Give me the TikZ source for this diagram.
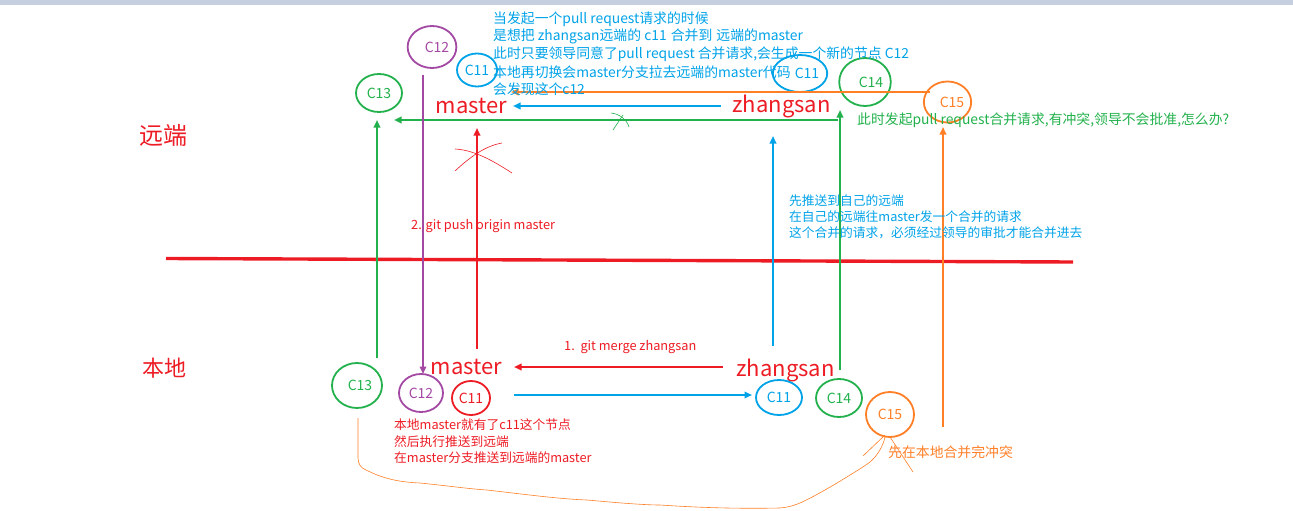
\documentclass[tikz,border=0pt]{standalone}
\usepackage{fontspec}
\setmainfont{Noto Sans CJK SC}
\usetikzlibrary{arrows.meta,shapes.geometric}
\definecolor{cblue}{HTML}{00A2E8}
\definecolor{cgreen}{HTML}{22B14C}
\definecolor{cred}{HTML}{ED1C24}
\definecolor{corange}{HTML}{FF7F27}
\definecolor{cpurple}{HTML}{A349A4}
\definecolor{cbar}{HTML}{C5CFE0}
\tikzset{
  x=1pt,y=-1pt,
  commit/.style={ellipse,draw=#1,text=#1,line width=1.8pt,inner sep=0pt,font=\fontsize{14}{14}\selectfont},
  conn/.style={draw=#1,line width=2pt,-{Triangle[length=7.5pt,width=6.5pt]}},
  scrib/.style={draw=#1,line width=0.6pt},
  note/.style={anchor=west,inner sep=0pt,text=#1,font=\fontsize{13.85}{14}\selectfont},
  smallnote/.style={anchor=west,inner sep=0pt,text=#1,font=\fontsize{12.75}{13}\selectfont},
  branch/.style={inner sep=0pt,text=cred,font=\fontsize{22}{22}\selectfont},
}
\begin{document}
\begin{tikzpicture}
\useasboundingbox (0,0) rectangle (1293,511);
\fill[cbar] (0,0) rectangle (1293,5);

% side labels and branches
\node[inner sep=0pt,text=cred,font=\fontsize{24}{24}\selectfont] (remote) at (163.5,135.5) {远端};
\node[inner sep=0pt,text=cred,font=\fontsize{22}{22}\selectfont] (local) at (164,368) {本地};
\node[branch] (mt) at (471.5,106) {master};
\node[branch] (zt) at (781.5,106) {zhangsan};
\node[branch] (mb) at (466.5,367) {master};
\node[branch] (zb) at (785.5,370) {zhangsan};

% free ends
\coordinate (dTop) at (166,258.5); \coordinate (dEnd) at (1073,262);
\coordinate (oA) at (930,92);  \coordinate (oB) at (511,92);
\coordinate (bA) at (721,106); \coordinate (bB) at (513,106);
\coordinate (gA) at (838,120); \coordinate (gB) at (394,120);
\coordinate (bU1) at (773,346); \coordinate (bU2) at (773,136);
\coordinate (gU1) at (840,370); \coordinate (gU2) at (840,110);
\coordinate (oU1) at (943,427); \coordinate (oU2) at (943,127);
\coordinate (rU1) at (477,349); \coordinate (rU2) at (477,128);
\coordinate (pD1) at (423,75);  \coordinate (pD2) at (423,374);
\coordinate (gL1) at (377,358); \coordinate (gL2) at (377,120);
\coordinate (rL1) at (723,367); \coordinate (rL2) at (514,367);
\coordinate (bR1) at (514,395); \coordinate (bR2) at (752,395);

% commits
\node[commit=cpurple,minimum width=46pt,minimum height=42pt] (c12t) at (432,47) {\hspace{10pt}C12};
\node[commit=cblue,minimum width=40pt,minimum height=33pt] (c11t) at (477,70) {C11};
\node[commit=cgreen,minimum width=46pt,minimum height=38pt] (c13t) at (379,93) {C13};
\node[commit=cblue,minimum width=44pt,minimum height=37pt] (c11r) at (800,73.5) {\hspace{14pt}C11};
\node[commit=cgreen,minimum width=51pt,minimum height=48pt] (c14t) at (865,82) {\hspace{12pt}C14};
\node[commit=corange,minimum width=47pt,minimum height=41pt] (c15t) at (947.5,102) {\hspace{9pt}C15};
\node[commit=cgreen,minimum width=50pt,minimum height=45pt] (c13b) at (357,385.5) {\hspace{6pt}C13};
\node[commit=cpurple,minimum width=44pt,minimum height=38pt] (c12b) at (421,393) {C12};
\node[commit=cred,minimum width=38pt,minimum height=34pt] (c11b) at (471,398) {C11};
\node[commit=cblue,minimum width=46pt,minimum height=35pt] (c11l) at (779,397.5) {C11};
\node[commit=cgreen,minimum width=46pt,minimum height=38pt] (c14b) at (839,398) {C14};
\node[commit=corange,minimum width=48pt,minimum height=45pt] (c15b) at (890,414.5) {C15};

% connectors
\draw[cred,line width=3.4pt] (dTop) -- (dEnd);
\draw[conn=corange] (oA) -- (oB);
\draw[conn=cblue] (bA) -- (bB);
\draw[conn=cgreen] (gA) -- (gB);
\draw[conn=cblue] (bU1) -- (bU2);
\draw[conn=cgreen] (gU1) -- (gU2);
\draw[conn=corange] (oU1) -- (oU2);
\draw[conn=cred] (rU1) -- (rU2);
\draw[conn=cpurple] (pD1) -- (pD2);
\draw[conn=cgreen] (gL1) -- (gL2);
\draw[conn=cred] (rL1) -- (rL2);
\draw[conn=cblue] (bR1) -- (bR2);

% scribbles
\draw[scrib=cred] (455,149) .. controls (475,150) and (495,162) .. (512,173);
\draw[scrib=cred] (455,171) .. controls (470,157) and (485,146) .. (502,143);
\draw[scrib=cgreen] (611,113) .. controls (620,114) and (627,120) .. (629,127);
\draw[scrib=cgreen] (613,130) -- (623,115);
\draw[scrib=corange] (863,456) -- (885,435);
\draw[scrib=corange] (890,437) -- (913,472);
\draw[scrib=corange] (358,418) -- (358,458) .. controls (358,464) and (361,468) .. (366,470)
  .. controls (380,477) and (395,482) .. (420,483)
  .. controls (450,486) and (470,489) .. (487,490)
  .. controls (530,495) and (560,499) .. (587,500)
  .. controls (620,503) and (645,505) .. (660,505)
  .. controls (690,507) and (730,509) .. (780,508)
  .. controls (790,507) and (795,505) .. (800,503)
  .. controls (815,496) and (825,490) .. (837,483)
  .. controls (850,475) and (862,468) .. (870,462)
  .. controls (878,455) and (883,446) .. (885,437);

% notes
\node[note=cblue] (n1) at (493,19) {当发起一个pull request请求的时候};
\node[note=cblue] (n2) at (493,36.5) {是想把 zhangsan远端的 c11\hspace{1pt} 合并到\hspace{1pt} 远端的master};
\node[note=cblue] (n3) at (493,54) {此时只要领导同意了pull request 合并请求,会生成一个新的节点 C12};
\node[note=cblue] (n4) at (493,72) {本地再切换会master分支拉去远端的master代码};
\node[note=cblue] (n5) at (493,89) {会发现这个c12};
\node[note=cgreen] (n6) at (857,120) {此时发起pull request合并请求,有冲突,领导不会批准,怎么办?};
\node[smallnote=cblue] (n7) at (789,200.5) {先推送到自己的远端};
\node[smallnote=cblue] (n8) at (789,217) {在自己的远端往master发一个合并的请求};
\node[smallnote=cblue] (n9) at (789,233) {这个合并的请求，必须经过领导的审批才能合并进去};
\node[smallnote=cred] (n10) at (411,226) {2. git push origin master};
\node[smallnote=cred] (n11) at (564,347) {1.\ \ git merge zhangsan};
\node[smallnote=cred] (n12) at (394,425) {本地master就有了c11这个节点};
\node[smallnote=cred] (n13) at (394,442) {然后执行推送到远端};
\node[smallnote=cred] (n14) at (394,458) {在master分支推送到远端的master};
\node[note=corange] (n15) at (888,452) {先在本地合并完冲突};
\end{tikzpicture}
\end{document}
